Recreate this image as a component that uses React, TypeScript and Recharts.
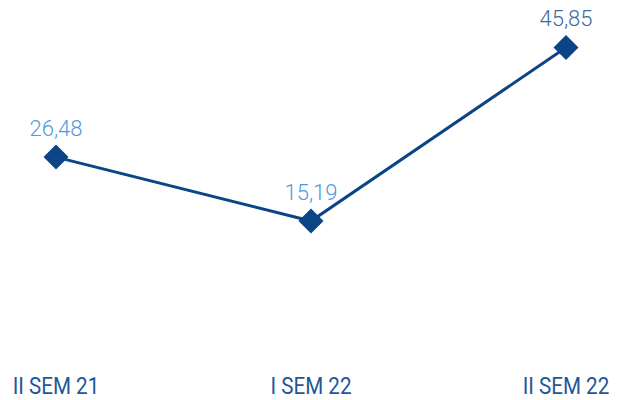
import { LineChart, Line, XAxis, YAxis, LabelList } from 'recharts';

const periods = ['II SEM 21', 'I SEM 22', 'II SEM 22'];
const values = [26.48, 15.19, 45.85];

const data = periods.map((period, i) => ({ period, value: values[i] }));

const lineColor = '#0b4585';
const labelColors = ['#4f9bdc', '#4f9bdc', '#3a6c9f'];

const Diamond = (props: any) => {
  const { cx, cy } = props;
  if (cx == null || cy == null) return null;
  const r = 12.5;
  return (
    <polygon
      points={`${cx},${cy - r} ${cx + r},${cy} ${cx},${cy + r} ${cx - r},${cy}`}
      fill={lineColor}
    />
  );
};

// condensed look: squeeze the glyphs horizontally
const PeriodTick = (props: any) => {
  const { x, y, payload } = props;
  return (
    <g transform={`translate(${x},${y + 87}) scale(0.86,1)`}>
      <text
        x={0}
        y={0}
        textAnchor="middle"
        fill="#1e5799"
        fontSize={24}
        fontFamily="Roboto, sans-serif"
      >
        {payload.value}
      </text>
    </g>
  );
};

const ValueLabel = (props: any) => {
  const { x, y, value, index } = props;
  return (
    <text
      x={x}
      y={y - 21}
      textAnchor="middle"
      fill={labelColors[index] ?? labelColors[0]}
      fontSize={22}
      fontWeight={300}
      fontFamily="Roboto, sans-serif"
    >
      {Number(value).toFixed(2).replace('.', ',')}
    </text>
  );
};

export default function App() {
  return (
    <div style={{ position: 'absolute', left: 0, top: 0, background: '#fff' }}>
      <LineChart
        width={627}
        height={400}
        data={data}
        margin={{ top: 24, right: 0, left: 0, bottom: 0 }}
      >
        <XAxis
          dataKey="period"
          height={93}
          axisLine={false}
          tickLine={false}
          tickSize={0}
          tickMargin={0}
          padding={{ left: 56, right: 61 }}
          tick={<PeriodTick />}
          interval={0}
        />
        <YAxis hide domain={[0, 50]} />
        <Line
          type="linear"
          dataKey="value"
          stroke={lineColor}
          strokeWidth={3}
          dot={<Diamond />}
          activeDot={false}
          isAnimationActive={false}
        >
          <LabelList dataKey="value" content={<ValueLabel />} />
        </Line>
      </LineChart>
    </div>
  );
}
